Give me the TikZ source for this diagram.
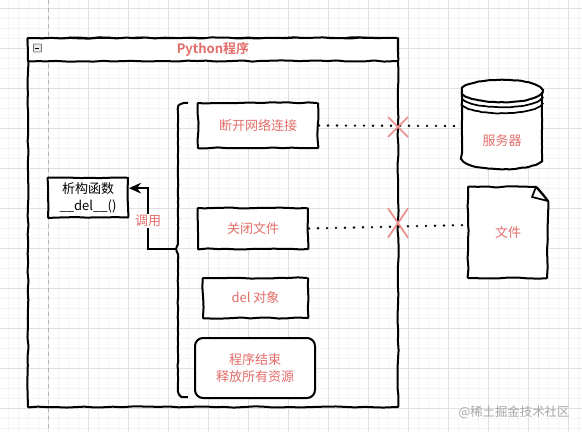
\documentclass[tikz,border=0pt]{standalone}
\usepackage{fontspec}
\setmainfont{Noto Sans CJK SC}[BoldFont={Noto Sans CJK SC Bold}]
\usetikzlibrary{arrows.meta,decorations.pathmorphing}
\definecolor{labelred}{HTML}{E26D69}
\definecolor{crossred}{HTML}{EA8F8A}
\tikzset{
  sketch/.style={line width=1.5pt, line join=round, decorate, decoration={random steps, segment length=7pt, amplitude=.45pt}, rounded corners=.6pt},
  roughcurve/.style={line width=1.5pt, line join=round, decorate, decoration={random steps, segment length=2.5pt, amplitude=.22pt}},
  sketchbox/.style={draw, sketch, fill=white, inner sep=0pt, font=\fontsize{9.75}{12.5}\selectfont, align=center, text=labelred},
  sketchtext/.style={font=\fontsize{9.75}{12.5}\selectfont, align=center, text=labelred, inner sep=0pt},
  dottedlink/.style={line width=2pt, line cap=round, dash pattern=on 0pt off 6.75pt, black},
  crossmark/.style={crossred, line width=1.3pt},
}
\begin{document}
\begin{tikzpicture}[x=.75pt,y=-.75pt]
\useasboundingbox (0,0) rectangle (582,432);
\fill[white] (0,0) rectangle (582,432);
\foreach \k in {0,...,58} \draw[black!4, line width=.5pt] (8+10*\k,0) -- (8+10*\k,432);
\foreach \k in {0,...,43} \draw[black!4, line width=.5pt] (0,8+10*\k) -- (582,8+10*\k);
\foreach \k in {0,...,13} \draw[black!12, line width=.6pt] (48+40*\k,0) -- (48+40*\k,432);
\foreach \k in {0,...,10} \draw[black!12, line width=.6pt] (0,8+40*\k) -- (582,8+40*\k);
\draw[black!30, line width=.6pt, dashed] (48,0) -- (48,432);
\node[draw, sketch, minimum width=277.5pt, minimum height=276.75pt] (frame) at (213,222.5) {};
\node[sketchbox, minimum width=277.5pt, minimum height=17.25pt, font=\fontsize{9.75}{12}\selectfont\bfseries] (framehead) at (213,49.5) {Python程序};
\node[draw=black!55, fill=black!8, line width=.5pt, minimum size=6pt, inner sep=0pt, rounded corners=.5pt] (foldicon) at (37.5,48) {};
\draw[line width=.7pt] (foldicon.west) ++(1.3pt,0) -- ++(3.4pt,0);
\node[sketchbox, minimum width=90pt, minimum height=33.75pt] (netbox) at (258,125.5) {断开网络连接};
\node[sketchbox, minimum width=82.5pt, minimum height=30.75pt] (filebox) at (253,228.5) {关闭文件};
\node[sketchbox, minimum width=78.75pt, minimum height=30pt] (delbox) at (255.5,298) {del 对象};
\node[draw, line width=1.5pt, fill=white, rounded corners=6pt, inner sep=0pt, font=\fontsize{9.75}{12.5}\selectfont, align=center, text=labelred, minimum width=90pt, minimum height=45pt] (endbox) at (255,368) {程序结束\\释放所有资源};
\node[sketchbox, text=black, minimum width=60pt, minimum height=30pt] (dtor) at (88,197.5) {析构函数\\\_\_del\_\_()};
\coordinate (bracetop) at (188,103);
\coordinate (bracemid) at (176,249);
\coordinate (bracebot) at (188,397);
\draw[roughcurve] (bracetop) .. controls (180,103) and (178,105) .. (178,112) -- (178,244) -- (bracemid) -- (178,254) -- (178,388) .. controls (178,395) and (180,397) .. (bracebot);
\draw[line width=1.5pt, -{Stealth[length=9pt,width=8pt]}] (bracemid) -- (148,249) |- ([yshift=7pt]dtor.east);
\node[sketchtext, fill=white, inner sep=1pt] (calllabel) at (148,221) {调用};
\draw[roughcurve, fill=white] (462,91) .. controls (462,76) and (542,76) .. (542,91) -- (542,158) .. controls (542,173) and (462,173) .. (462,158) -- cycle;
\draw[roughcurve] (462,91) .. controls (462,106) and (542,106) .. (542,91);
\draw[roughcurve, line width=1.3pt] (462,96) .. controls (462,111) and (542,111) .. (542,96);
\draw[roughcurve, line width=1.3pt] (462,102) .. controls (462,117) and (542,117) .. (542,102);
\node[sketchtext, minimum width=60pt, minimum height=60pt] (server) at (502,126) {};
\node[sketchtext] (serverlabel) at (502,141) {服务器};
\coordinate (fileedge) at (468,225);
\draw[sketch, fill=white] (fileedge) -- (468,187) -- (536,187) -- (548,201) -- (547,278) -- (468,278) -- cycle;
\draw[line width=1.3pt, line join=round, fill=white] (536,187) -- (532,197) -- (548,201) -- cycle;
\node[sketchtext] (filelabel) at (508,233) {文件};
\draw[dottedlink] (netbox.east) -- (server.west);
\draw[dottedlink] (filebox.east) -- (fileedge);
\coordinate (netcross) at (398,127);
\coordinate (filecross) at (398,223);
\draw[crossmark] ([shift={(-7.5pt,-7.5pt)}]netcross) -- ([shift={(7.5pt,7.5pt)}]netcross);
\draw[crossmark] ([shift={(-7.5pt,7.5pt)}]netcross) -- ([shift={(7.5pt,-7.5pt)}]netcross);
\draw[crossmark] ([shift={(-7.5pt,-11pt)}]filecross) -- ([shift={(7.5pt,11pt)}]filecross);
\draw[crossmark] ([shift={(-7.5pt,11pt)}]filecross) -- ([shift={(7.5pt,-11pt)}]filecross);
\node[text=black!35, font=\fontsize{9.3}{12}\selectfont, inner sep=0pt] (mark) at (514,412) {@稀土掘金技术社区};
\end{tikzpicture}
\end{document}
